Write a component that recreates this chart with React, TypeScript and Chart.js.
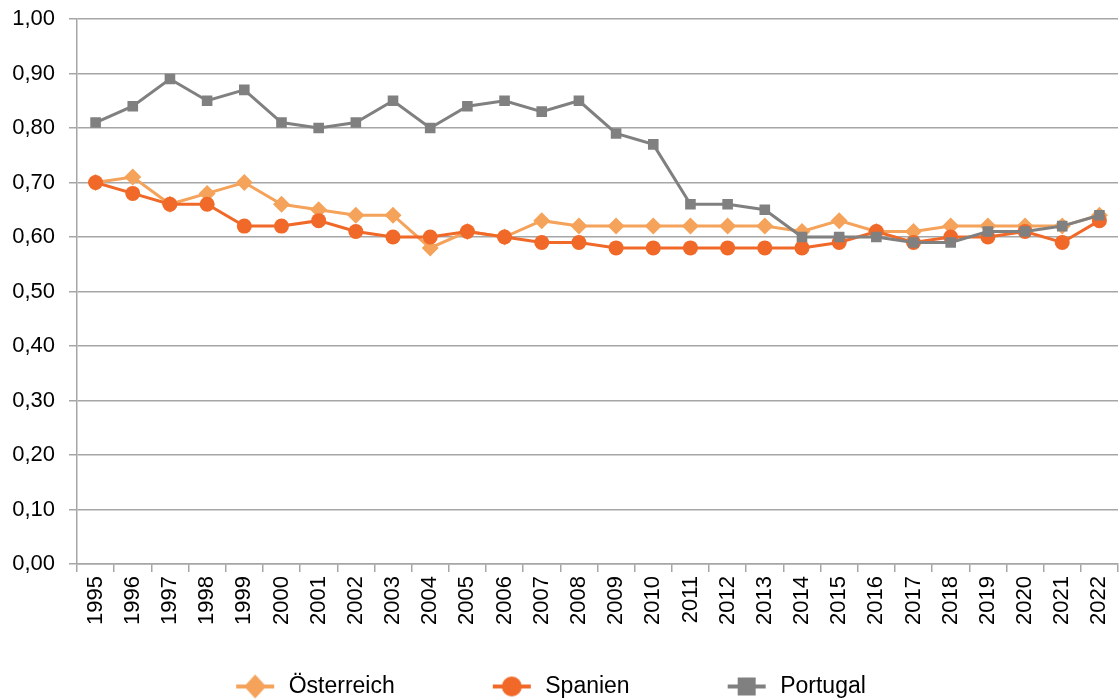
import React, { useEffect, useRef } from 'react';
import { Chart, registerables } from 'chart.js';

Chart.register(...registerables);

const years = [
  '1995', '1996', '1997', '1998', '1999', '2000', '2001', '2002', '2003', '2004',
  '2005', '2006', '2007', '2008', '2009', '2010', '2011', '2012', '2013', '2014',
  '2015', '2016', '2017', '2018', '2019', '2020', '2021', '2022',
];

const oesterreich = [
  0.70, 0.71, 0.66, 0.68, 0.70, 0.66, 0.65, 0.64, 0.64, 0.58,
  0.61, 0.60, 0.63, 0.62, 0.62, 0.62, 0.62, 0.62, 0.62, 0.61,
  0.63, 0.61, 0.61, 0.62, 0.62, 0.62, 0.62, 0.64,
];

const spanien = [
  0.70, 0.68, 0.66, 0.66, 0.62, 0.62, 0.63, 0.61, 0.60, 0.60,
  0.61, 0.60, 0.59, 0.59, 0.58, 0.58, 0.58, 0.58, 0.58, 0.58,
  0.59, 0.61, 0.59, 0.60, 0.60, 0.61, 0.59, 0.63,
];

const portugal = [
  0.81, 0.84, 0.89, 0.85, 0.87, 0.81, 0.80, 0.81, 0.85, 0.80,
  0.84, 0.85, 0.83, 0.85, 0.79, 0.77, 0.66, 0.66, 0.65, 0.60,
  0.60, 0.60, 0.59, 0.59, 0.61, 0.61, 0.62, 0.64,
];

const FONT = "'Liberation Sans', Arial, sans-serif";
const GRID = '#a6a6a6';

// legend picture: blank space on the left (gap between items), then line + marker
const ICON_W = 129;
function legendIcon(color: string, shape: string): HTMLCanvasElement {
  const c = document.createElement('canvas');
  c.width = ICON_W;
  c.height = 28;
  const ctx = c.getContext('2d');
  if (!ctx) return c;
  const ox = ICON_W - 44;
  ctx.strokeStyle = color;
  ctx.fillStyle = color;
  ctx.lineWidth = 4;
  ctx.beginPath();
  ctx.moveTo(ox + 3, 14);
  ctx.lineTo(ox + 41, 14);
  ctx.stroke();
  ctx.beginPath();
  if (shape === 'diamond') {
    ctx.moveTo(ox + 22, 2);
    ctx.lineTo(ox + 33, 14);
    ctx.lineTo(ox + 22, 26);
    ctx.lineTo(ox + 11, 14);
    ctx.closePath();
  } else if (shape === 'circle') {
    ctx.arc(ox + 22, 14, 10, 0, Math.PI * 2);
  } else {
    ctx.rect(ox + 13, 5, 18, 18);
  }
  ctx.fill();
  return c;
}

const legendNudge = {
  id: 'legendNudge',
  afterLayout(chart: any) {
    const lg = chart.legend;
    if (!lg) return;
    lg.top += 8;
    lg.bottom += 8;
    lg.left -= 52;
    lg.right -= 52;
  },
};

const App: React.FC = () => {
  const canvasRef = useRef<HTMLCanvasElement | null>(null);

  useEffect(() => {
    if (!canvasRef.current) return;
    const ctx = canvasRef.current.getContext('2d');
    if (!ctx) return;

    const icons = [
      legendIcon('#f5a25a', 'diamond'),
      legendIcon('#f06928', 'circle'),
      legendIcon('#808080', 'square'),
    ];

    const chart = new Chart(ctx, {
      type: 'line',
      data: {
        labels: years,
        datasets: [
          {
            label: 'Österreich',
            data: oesterreich,
            borderColor: '#f5a25a',
            backgroundColor: '#f5a25a',
            borderWidth: 3,
            pointStyle: 'rectRot',
            pointRadius: 8.5,
            pointBorderWidth: 0,
            tension: 0,
            order: 2,
          },
          {
            label: 'Spanien',
            data: spanien,
            borderColor: '#f06928',
            backgroundColor: '#f06928',
            borderWidth: 3,
            pointStyle: 'circle',
            pointRadius: 7.5,
            pointBorderWidth: 0,
            tension: 0,
            order: 1,
          },
          {
            label: 'Portugal',
            data: portugal,
            borderColor: '#808080',
            backgroundColor: '#808080',
            borderWidth: 3,
            pointStyle: 'rect',
            pointRadius: 7.5,
            pointBorderWidth: 0,
            tension: 0,
            order: 0,
          },
        ],
      },
      options: {
        animation: false,
        responsive: true,
        maintainAspectRatio: false,
        layout: { autoPadding: false, padding: { top: 19, right: 1, left: 0, bottom: 0 } },
        plugins: {
          tooltip: { enabled: false },
          legend: {
            position: 'bottom',
            labels: {
              usePointStyle: true,
              pointStyleWidth: ICON_W,
              padding: 10,
              color: '#000',
              font: { family: FONT, size: 23 },
              generateLabels: (c: any) =>
                c.data.datasets.map((ds: any, i: number) => ({
                  text: ds.label,
                  pointStyle: icons[i],
                  fillStyle: ds.backgroundColor,
                  strokeStyle: ds.borderColor,
                  lineWidth: 0,
                  hidden: false,
                  datasetIndex: i,
                })),
            },
          },
        },
        scales: {
          x: {
            offset: true,
            afterFit: (s: any) => {
              s.height = 93;
              s.paddingLeft = 0;
              s.paddingRight = 0;
            },
            grid: {
              offset: true,
              drawOnChartArea: false,
              drawTicks: true,
              tickLength: 8,
              color: GRID,
              lineWidth: 1.5,
            },
            border: { color: GRID, width: 1.5 },
            ticks: {
              color: '#000',
              font: { family: FONT, size: 22 },
              minRotation: 90,
              maxRotation: 90,
              autoSkip: false,
              padding: 4,
            },
          },
          y: {
            min: 0,
            max: 1,
            afterFit: (s: any) => {
              s.width = 77;
              s.paddingTop = 0;
              s.paddingBottom = 0;
            },
            grid: {
              color: GRID,
              lineWidth: 1.5,
              tickLength: 8,
            },
            border: { color: GRID, width: 1.5 },
            ticks: {
              stepSize: 0.1,
              color: '#000',
              font: { family: FONT, size: 22 },
              padding: 14,
              callback: (v: any) => Number(v).toFixed(2).replace('.', ','),
            },
          },
        },
      },
      plugins: [legendNudge],
    });

    return () => {
      chart.destroy();
    };
  }, []);

  return (
    <div style={{ position: 'absolute', left: 0, top: 0, width: 1119, height: 700, background: '#fff' }}>
      <canvas ref={canvasRef} />
    </div>
  );
};

export default App;
